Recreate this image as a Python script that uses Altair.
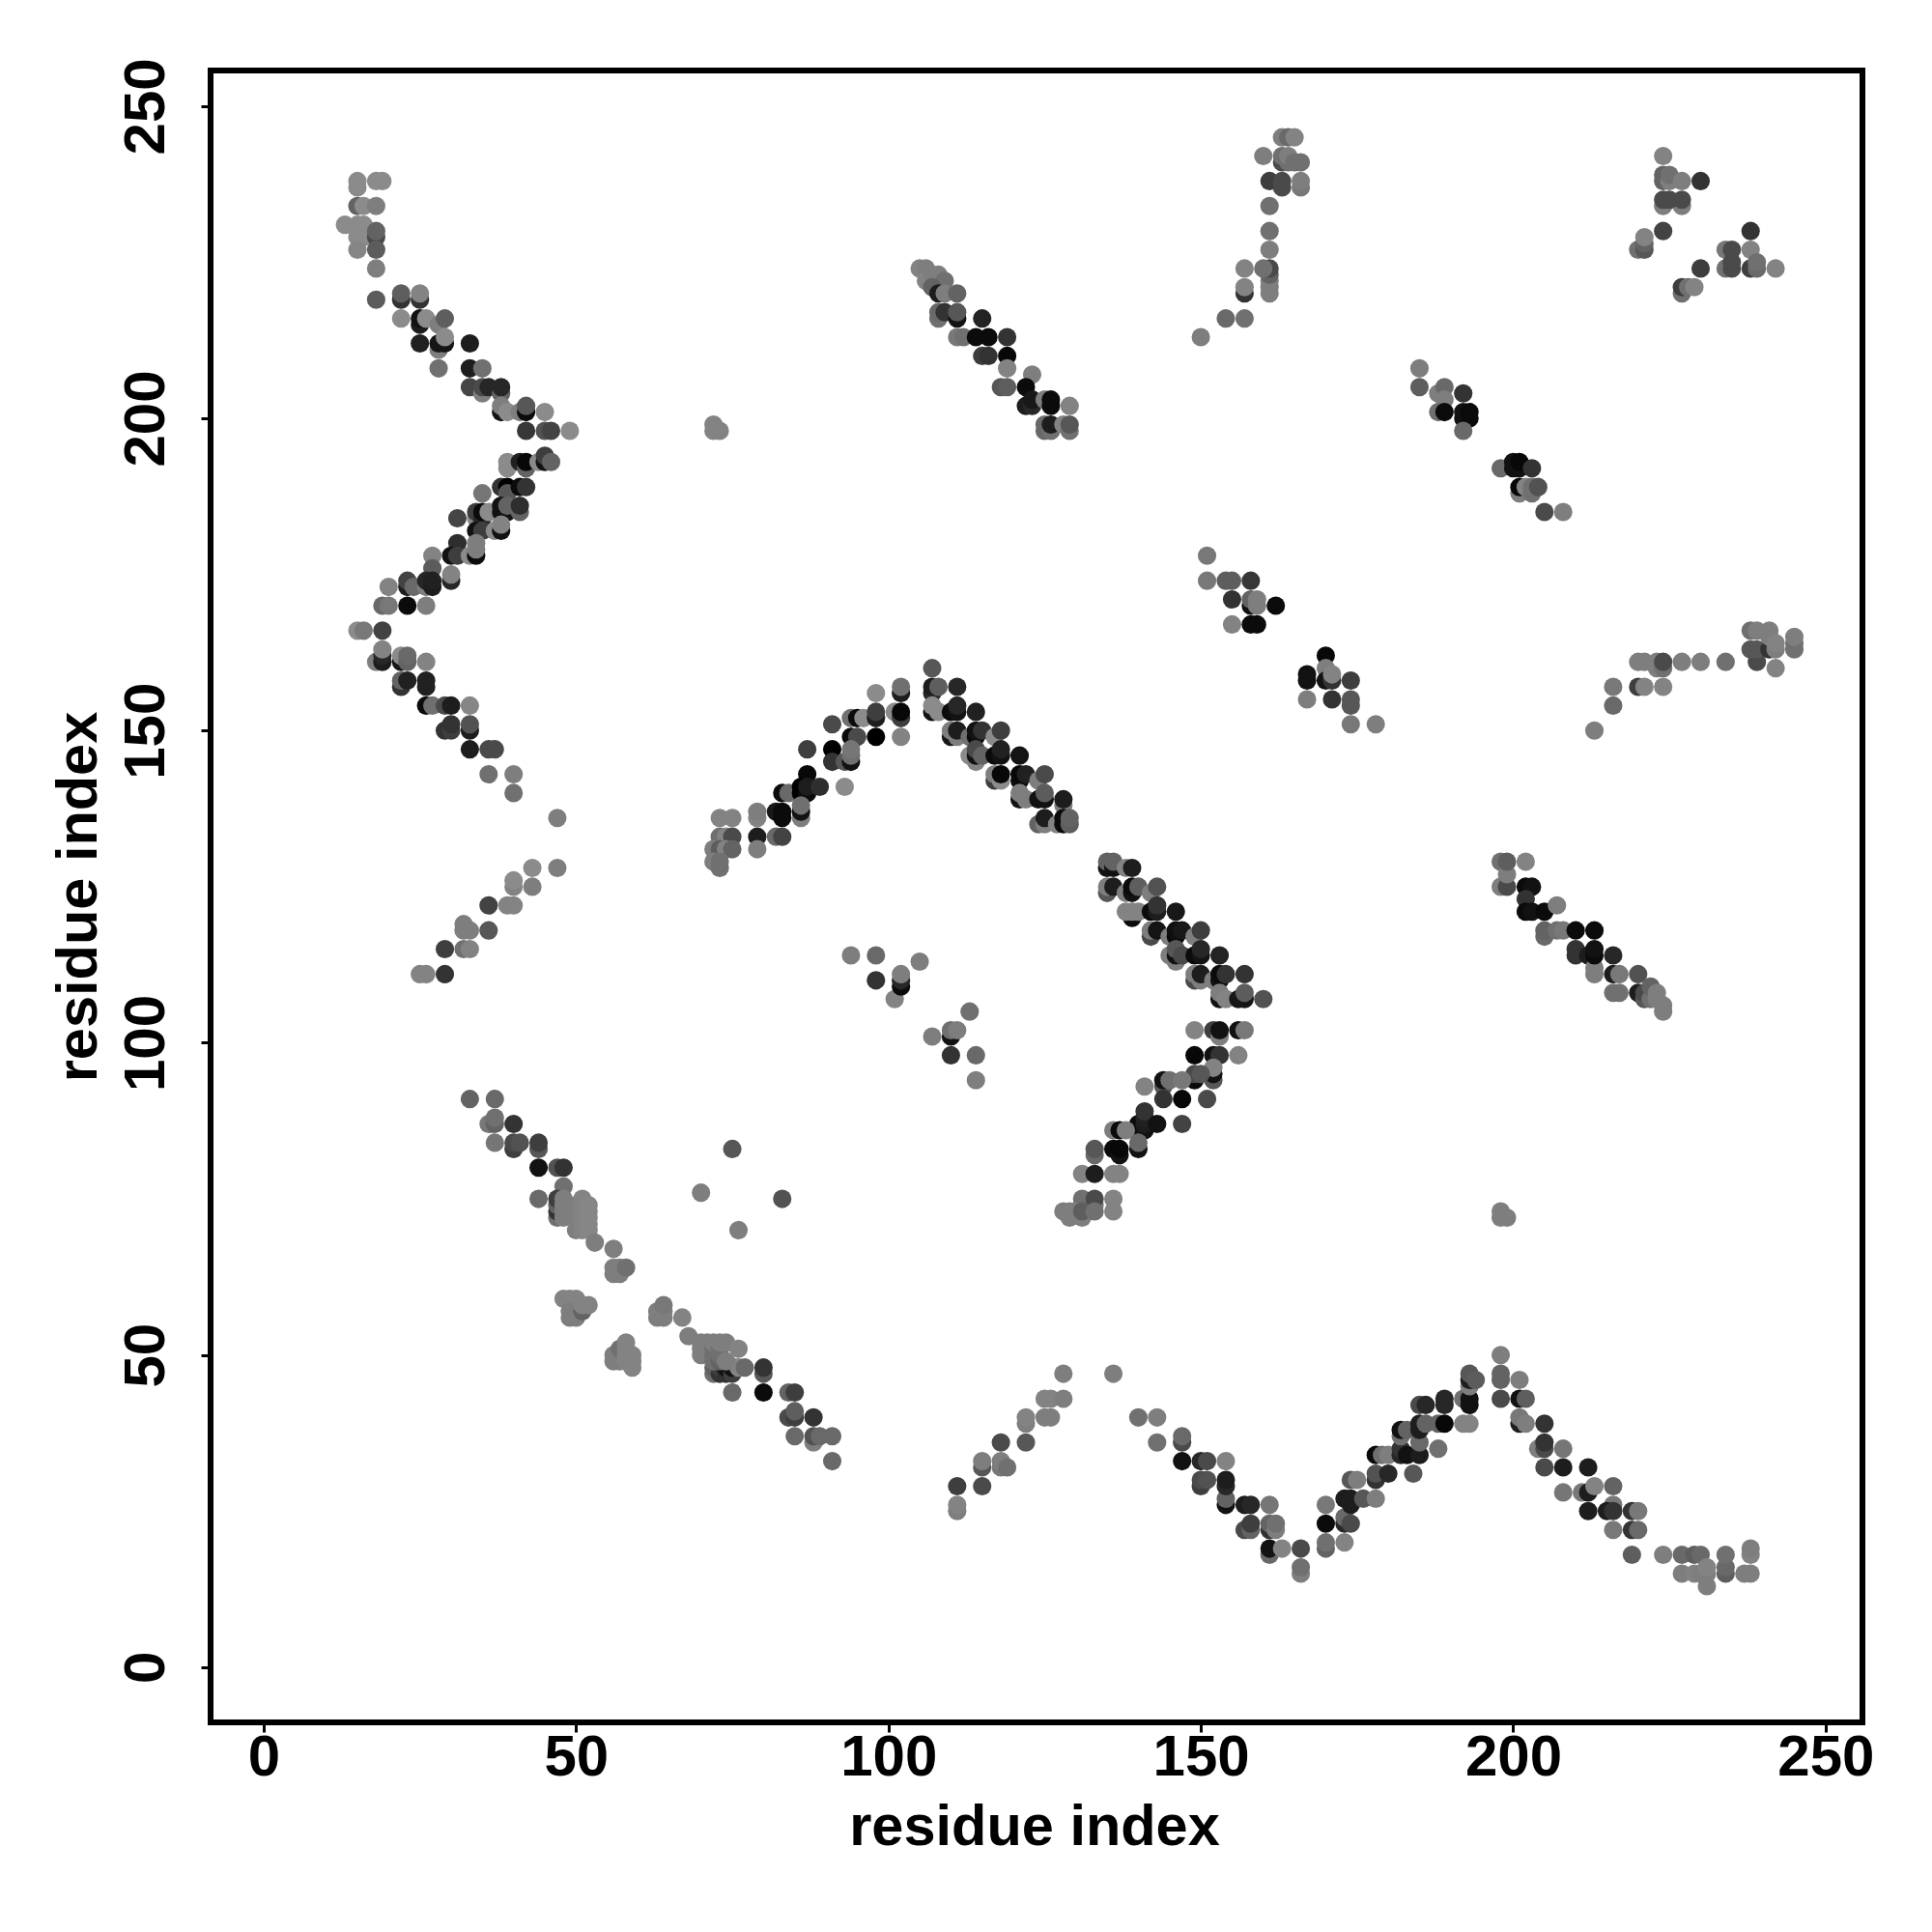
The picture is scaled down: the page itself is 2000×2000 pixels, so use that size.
import altair as alt
import pandas as pd

# (x residue, y residue, grey level 0=black .. 1=white)
top_left_arm = [
(15,238,.55),(15,237,.55),(18,238,.55),(19,238,.55),(15,234,.4),(16,234,.55),(18,234,.5),
(13,231,.55),(15,231,.55),(16,231,.55),(15,229,.55),(16,229,.55),(15,230,.55),(18,229,.3),(18,230,.4),(15,227,.53),(18,227,.37),
(18,224,.5),(18,219,.37),(22,219,.2),(22,220,.38),(22,216,.55),(25,219,.2),(25,220,.52),
(25,215,.1),(25,216,.05),(26,216,.55),(28,215,.5),(29,216,.38),(25,212,.12),(28,211,.5),
(28,212,.07),(29,212,.07),(29,213,.55),(33,212,.1),(28,208,.45),(33,208,.1),(35,208,.45),
(33,205,.28),(35,204,.5),(35,205,.3),(36,205,.15),(38,204,.4),(38,205,.15),
(38,201,.05),(38,202,.5),(39,201,.55),(41,201,.5),(42,201,.03),(42,202,.35),(45,201,.55),
(42,198,.22),(45,198,.33),(46,198,.27),(49,198,.55),
]
left_rise = [
(39,192,.55),(39,193,.55),(41,193,.12),(42,192,.4),(42,193,.02),(44,193,.55),(45,193,.05),(45,194,.25),(46,193,.4),
(35,188,.47),(38,189,.2),(39,189,0),(39,188,.35),(41,189,.03),(42,189,.2),
(31,184,.28),(34,184,.55),(34,185,.25),(35,184,.15),(35,185,.03),(36,185,.55),(38,185,.05),(38,186,.05),(39,185,.05),(39,186,.4),(41,185,.4),(41,186,.18),
(34,182,.05),(35,182,.25),(37,182,.55),(38,182,.05),(38,183,.52),
(31,180,.18),(30,178,.05),(31,178,.25),(33,178,.55),(34,178,.03),(34,179,.5),(34,180,.5),
(27,178,.52),(27,176,.37),(30,174,.15),(30,175,.52),
(23,173,.1),(23,174,.27),(24,173,.42),(26,173,.5),(26,174,.15),(27,173,.1),(27,174,.12),
(20,173,.52),(19,170,.42),(20,170,.48),(23,170,.03),(26,170,.5),
(15,166,.55),(16,166,.48),(19,166,.27),
(18,161,.5),(19,161,.1),(19,162,.15),(19,163,.52),(22,161,.07),(22,162,.55),(23,161,.4),(23,162,.42),(26,161,.52),
(22,157,.2),(22,158,.4),(23,158,.12),(26,157,.12),(26,158,.12),
(26,154,.03),(27,154,.45),(29,154,.3),(30,154,.1),(33,154,.53),
(29,150,.2),(30,150,.25),(30,151,.2),(33,150,.1),(33,151,.33),
(33,147,.1),(36,147,.3),(37,147,.3),(36,143,.45),(40,143,.5),(40,140,.45),(47,136,.5),
]
left_low_arm = [
(47,128,.5),(43,128,.55),(43,125,.5),(40,125,.52),(40,126,.55),(39,122,.52),(40,122,.52),(36,122,.27),(36,118,.35),
(32,118,.5),(32,119,.5),(33,118,.5),(29,115,.25),(32,115,.45),(33,115,.52),(25,111,.52),(26,111,.52),(29,111,.2),
(72,199,.52),(72,198,.52),(73,198,.52),
]
arc_left = [
(102,156,.1),(102,157,.45),(98,156,.55),(94,152,.45),(95,152,.03),(96,152,.55),(98,152,.1),(98,153,.25),(101,153,.55),(102,152,.25),(102,153,.02),
(91,151,.3),(94,149,.03),(95,149,.3),(98,149,0),(102,149,.52),
(87,147,.25),(91,147,0),(91,145,.2),(93,145,.35),(94,145,.05),(94,146,.45),(94,147,.47),
(87,143,.02),(83,140,.03),(84,140,.42),(86,140,0),(86,141,0),(87,140,.03),(87,141,.1),(89,141,.18),(93,141,.55),
(86,136,.5),(86,137,.05),(86,138,.45),(82,137,.08),(83,136,.03),(83,137,.03),
(79,136,.52),(79,137,.5),(73,136,.52),(75,136,.52),
(73,133,.45),(74,133,.52),(75,133,.3),(79,133,.1),(82,133,.42),(83,133,.27),
(72,131,.5),(73,131,.38),(74,131,.52),(75,131,.4),(79,131,.5),(72,129,.5),(73,128,.45),(73,129,.45),
]
arc_right = [
(107,160,.35),(107,156,.15),(107,157,.1),(108,157,.38),(111,157,.15),
(107,153,.05),(107,154,.55),(108,153,.55),(110,153,.03),(111,153,.05),(111,154,.15),(114,153,.12),
(110,149,.08),(110,150,.5),(111,149,.5),(111,150,.1),(113,149,.45),(114,149,.03),(114,150,.05),(115,150,.2),(117,149,.55),(118,150,.25),
(113,146,.55),(114,145,.52),(114,146,.05),(114,147,.3),(115,146,.4),(117,146,.03),(118,146,.05),(118,147,.12),(121,146,.06),
(117,142,.25),(117,143,.5),(118,142,.55),(118,143,.02),(121,142,.03),(121,143,.02),(122,143,.12),(124,142,.5),(125,143,.3),
(121,139,.05),(121,140,.5),(122,139,.5),(124,139,.05),(125,139,.05),(125,140,.37),(128,138,.5),(128,139,.1),
(124,135,.4),(125,135,.5),(125,136,.1),(127,135,.52),(128,135,.03),(128,136,.03),(129,135,.38),(129,136,.4),
]
diag_centre_upper = [
(135,128,.05),(135,129,.4),(136,128,.05),(136,129,.4),(138,128,.52),(139,128,.1),
(135,124,.35),(135,125,.5),(136,125,.1),(138,124,.5),(139,124,.05),(139,125,.03),(140,125,.38),(142,124,.5),(143,125,.33),
(139,120,.03),(139,121,.52),(138,121,.52),(140,121,.52),(142,121,.03),(143,121,.1),(143,122,.2),(146,121,.08),
(142,117,.3),(142,118,.5),(143,118,.06),(145,117,.5),(146,117,.02),(146,118,.04),(147,118,.08),(149,117,.5),(150,118,.25),
(145,114,.5),(146,113,.5),(146,114,.05),(146,115,.35),(147,114,.3),(149,114,.03),(150,114,.06),(150,115,.15),(153,114,.13),
(149,110,.3),(149,111,.5),(150,110,.5),(150,111,.1),(152,110,.5),(153,110,.05),(153,111,.03),(154,111,.2),(157,111,.2),
(153,107,.05),(153,108,.5),(154,107,.52),(156,107,.07),(157,107,.07),(157,108,.37),(160,107,.33),
]
diag_centre_lower = [
(149,102,.52),(152,102,.25),(153,101,.5),(153,102,.05),(156,102,.05),(157,102,.48),
(149,98,.02),(152,98,.05),(153,98,.2),(156,98,.52),
(152,94,.35),(152,95,.05),(152,96,.52),(149,94,.03),(149,95,.3),(150,95,.35),
(144,93,.35),(144,94,.05),(145,94,.45),(147,94,.48),(141,93,.52),
(144,91,.2),(147,91,.02),(151,91,.3),(147,87,.27),
(140,86,.03),(140,87,.03),(141,86,.05),(141,87,.1),(141,88,.12),(141,89,.2),(143,87,.05),
(136,86,.5),(137,86,.03),(138,86,.5),(140,83,.05),(140,84,.42),(136,83,.03),(137,82,.05),(137,83,.02),
(133,82,.42),(133,83,.35),(131,79,.52),(133,79,.1),(136,79,.52),(137,79,.52),
(131,74,.5),(131,75,.45),(133,74,.5),(133,75,.3),(136,75,.52),
(128,73,.5),(129,72,.5),(129,73,.5),(130,73,.5),(131,72,.5),(131,73,.38),(133,73,.45),(136,73,.52),
]
diag_low_left = [
(33,91,.4),(37,91,.42),(36,87,.48),(37,87,.4),(37,88,.45),(40,87,.2),(37,84,.47),(40,83,.25),(40,84,.3),(41,84,.33),
(44,83,.35),(44,84,.25),(44,80,.05),(47,80,.33),(48,80,.2),(44,75,.42),(48,77,.45),
(47,72,.45),(47,73,.2),(47,74,.4),(47,75,.25),(48,72,.5),(48,73,.5),(48,74,.5),(48,75,.5),
(50,70,.5),(50,72,.5),(50,73,.5),(50,74,.5),(51,70,.52),(51,71,.52),(51,72,.52),(51,73,.52),(51,74,.52),(51,75,.52),
(52,70,.53),(52,71,.53),(52,72,.53),(52,73,.53),(52,74,.53),(53,68,.5),(56,67,.5),
(56,63,.5),(56,64,.5),(57,63,.5),(57,64,.5),(58,64,.45),
(70,76,.5),(83,75,.33),(76,70,.5),(75,83,.35),
(48,59,.52),(49,59,.52),(50,59,.52),(49,56,.5),(50,56,.5),(49,57,.5),(50,57,.5),(51,57,.4),(51,58,.52),(52,58,.52),
(56,49,.5),(56,50,.5),(57,49,.5),(57,51,.45),(58,49,.52),(58,50,.52),(58,51,.52),(58,52,.52),(59,48,.52),(59,49,.52),(59,50,.52),
(63,56,.5),(63,57,.5),(64,56,.5),(64,57,.5),(64,58,.48),(67,56,.52),(68,53,.5),
(72,47,.45),(72,48,.4),(73,47,.2),(73,48,.25),(74,47,.2),(74,48,.05),(75,47,.25),(75,48,.05),(76,48,.52),(77,48,.42),
(70,50,.5),(70,51,.5),(70,52,.5),(71,51,.5),(71,52,.5),(72,49,.45),(72,50,.45),(72,51,.45),(72,52,.5),
(73,49,.4),(73,50,.45),(73,51,.45),(73,52,.5),(74,49,.5),(74,52,.5),(76,51,.52),
(75,44,.42),(80,47,.35),(80,48,.2),(80,44,.03),(84,44,.4),(85,44,.25),
(84,40,.3),(85,40,.25),(85,41,.38),(88,40,.2),(85,37,.42),(88,36,.5),(88,37,.33),(89,37,.42),(91,37,.42),(91,33,.42),
]
diag_top_mid = [
(105,224,.52),(106,224,.5),(106,222,.52),(107,223,.5),(108,223,.5),(109,222,.45),(107,221,.4),(108,220,.1),(109,220,.5),(111,220,.4),
(108,216,.45),(108,217,.42),(109,217,.2),(111,216,.05),(111,217,.35),(111,213,.48),(115,216,.13),(112,213,.45),(114,213,.03),(116,213,.03),(119,213,.2),
(115,210,.25),(116,210,.2),(119,210,.02),(118,205,.35),(119,205,.38),(119,208,.52),(123,207,.5),
(122,205,.03),(122,202,.1),(123,202,.15),(123,203,.08),(125,203,.5),(126,202,.03),(126,203,.03),(129,202,.52),
(125,198,.42),(125,199,.42),(126,198,.45),(126,199,.1),(128,199,.52),(129,198,.45),(129,199,.35),
]
top_cluster = [
(163,245,.5),(164,245,.42),(165,245,.52),(160,242,.5),(163,241,.3),(163,242,.45),(164,241,.45),(164,242,.5),(165,241,.45),(166,241,.45),
(161,238,.25),(163,237,.3),(163,238,.3),(166,237,.48),(166,238,.5),(161,234,.45),(161,230,.45),(161,227,.5),
(161,220,.5),(161,221,.5),(161,222,.5),(161,223,.4),(161,224,.3),(160,224,.45),(157,224,.52),(157,220,.2),(157,221,.52),
(154,216,.42),(157,216,.45),(150,213,.5),
]
top_right_cluster = [
(224,242,.52),(224,238,.4),(224,239,.4),(225,238,.5),(225,239,.45),(227,238,.5),(230,238,.2),
(224,234,.5),(227,234,.5),(224,235,.3),(225,235,.3),(227,235,.3),(224,230,.27),(220,227,.45),(221,227,.35),(221,228,.4),(221,229,.52),
(238,230,.2),(234,227,.48),(235,227,.3),(238,227,.52),(230,224,.25),(234,224,.45),(235,224,.3),(235,225,.3),(238,224,.25),(239,224,.42),(239,225,.45),(242,224,.52),
(227,220,.45),(227,221,.25),(228,221,.45),(229,221,.52),
]
right_diag = [
(185,208,.5),(185,205,.38),(188,204,.5),(189,205,.42),(189,203,.5),(188,201,.45),(189,201,.03),(192,204,.2),(192,200,.05),(192,201,.05),(193,200,.03),(193,201,.03),(192,198,.42),
(198,192,.42),(200,192,.05),(200,193,.05),(201,192,.05),(201,193,.02),(203,192,.2),(201,188,.5),(201,189,.02),(202,189,.52),(203,188,.45),(203,189,.45),(204,189,.33),(205,185,.3),(208,185,.5),
]
middle_diag = [
(151,178,.48),(151,174,.48),(154,174,.38),(155,174,.38),(158,174,.22),(155,171,.2),(158,170,.05),(158,171,.4),(159,170,.5),(159,171,.5),(162,170,.03),
(155,167,.52),(158,167,.03),(159,167,.03),(170,162,.02),(170,160,.5),(167,158,.05),(167,159,.05),(170,158,.05),(171,158,.2),(171,159,.52),(174,158,.25),
(167,155,.5),(171,155,.2),(174,154,.35),(174,155,.35),(174,151,.48),(178,151,.5),
]
right_tail = [
(213,150,.5),(216,154,.42),(216,157,.48),(220,157,.25),(221,157,.52),(224,157,.52),
(220,161,.5),(221,161,.5),(223,160,.5),(223,161,.5),(224,160,.45),(224,161,.3),(227,161,.5),(230,161,.5),(234,161,.45),
(239,161,.3),(238,163,.35),(239,163,.35),(238,166,.45),(239,166,.5),(241,163,.2),(241,165,.5),(241,166,.5),(242,160,.52),(242,163,.5),(242,164,.52),(245,163,.45),(245,164,.45),(245,165,.5),
]
low_right_diag = [
(198,125,.5),(198,129,.45),(199,125,.3),(199,127,.5),(199,129,.38),(202,129,.52),(202,125,.03),(203,125,.05),(202,123,.2),(202,121,.03),(203,121,.05),(205,121,.03),(207,122,.5),
(205,117,.42),(205,118,.4),(207,118,.45),(208,118,.48),(210,118,.03),(213,118,.03),(210,114,.2),(210,115,.2),(212,114,.1),(213,112,.5),(213,114,.03),(213,115,.05),(216,114,.15),
(213,111,.5),(216,111,.1),(217,111,.48),(220,111,.33),(216,108,.45),(217,108,.45),(220,108,.1),(221,107,.35),(221,108,.3),(222,107,.45),(222,109,.4),(223,107,.5),(223,108,.5),(224,105,.5),(224,106,.5),
(198,72,.5),(198,73,.5),(199,72,.5),
]
centre_bits = [
(94,114,.5),(98,114,.42),(98,110,.2),(101,107,.52),(102,109,.03),(102,110,.15),(102,111,.5),(105,113,.5),
(107,101,.5),(110,101,.05),(110,102,.45),(111,102,.5),(110,98,.2),(113,105,.45),(114,98,.42),(114,94,.5),
]
bottom_wave = [
(111,29,.25),(111,25,.5),(111,26,.52),(115,29,.3),(115,32,.35),(115,33,.5),(118,36,.3),(118,32,.48),(118,33,.5),(119,32,.45),(122,36,.35),(122,39,.5),(122,40,.52),
(125,43,.52),(126,43,.52),(125,40,.5),(126,40,.5),(128,43,.5),(128,47,.5),(136,47,.5),(140,40,.45),(143,40,.5),(143,36,.45),
(147,33,.05),(147,36,.3),(147,37,.42),(150,33,.15),(151,33,.3),(154,33,.52),(150,29,.25),(150,30,.3),(151,30,.33),(154,26,.05),(154,27,.4),(154,29,.15),(154,30,.1),
(157,26,.1),(158,26,.15),(161,26,.47),(157,22,.3),(158,22,.4),(158,23,.25),(161,22,.2),(161,23,.4),(162,22,.5),(162,23,.45),
(161,18,.42),(161,19,.05),(163,19,.52),(166,19,.3),(166,15,.5),(166,16,.45),
(170,26,.48),(170,23,.03),(170,19,.4),(170,20,.45),(173,20,.52),(173,23,.15),(173,24,.42),(174,23,.3),
(174,26,.1),(173,27,.1),(174,27,.1),(174,30,.35),(175,30,.5),(176,27,.35),(178,27,.5),(178,30,.2),(178,31,.33),(180,31,.15),(184,31,.35),
(178,34,.03),(179,34,.45),(180,34,.5),(182,34,.15),(182,35,.2),(183,34,.05),(185,34,.1),(188,35,.45),
(182,37,.45),(182,38,.05),(183,38,.4),(185,36,.42),(185,38,.1),(185,39,.1),(186,39,.4),
(188,39,.4),(189,39,.02),(185,42,.3),(186,42,.15),(189,42,.15),(189,43,.15),(192,39,.52),(193,39,.52),(192,43,.45),(193,42,.05),(193,43,.05),
(193,45,.5),(193,46,.1),(193,47,.35),(194,46,.37),(198,50,.5),(198,43,.3),(198,46,.4),(198,47,.4),
(201,46,.5),(201,43,.05),(202,43,.38),(201,39,.1),(201,40,.48),(202,39,.5),(205,39,.2),
(204,35,.5),(205,35,.3),(205,36,.2),(208,35,.47),(205,32,.3),(208,32,.1),(212,32,.1),
(208,28,.47),(211,28,.48),(212,28,.1),(213,29,.52),(216,29,.4),(216,26,.48),(212,25,.1),(215,25,.1),(216,25,.2),(219,25,.2),(220,25,.48),
(216,22,.48),(219,22,.2),(220,22,.42),(219,18,.38),
(224,18,.5),(227,18,.42),(229,18,.38),(230,18,.42),(227,15,.5),(229,15,.52),(230,15,.5),(231,13,.5),(231,15,.5),(231,16,.52),
(234,15,.38),(234,16,.42),(234,18,.45),(237,15,.5),(238,15,.5),(238,18,.52),(238,19,.5),
]

groups = [top_left_arm, left_rise, left_low_arm, arc_left, arc_right, diag_centre_upper, diag_centre_lower,
          diag_low_left, diag_top_mid, top_cluster, top_right_cluster, right_diag, middle_diag,
          right_tail, low_right_diag, centre_bits, bottom_wave]
df = pd.DataFrame([p for g in groups for p in g], columns=["x", "y", "g"])

ticks = [0, 50, 100, 150, 200, 250]
FONT = "Liberation Sans"

chart = (
    alt.Chart(df)
    .mark_circle(size=365, opacity=1)
    .encode(
        x=alt.X("x:Q", scale=alt.Scale(domain=[-8.5, 255.9], nice=False, zero=False),
                axis=alt.Axis(values=ticks, title="residue index", format="d", grid=False, domain=False,
                              tickColor="black", tickWidth=3, tickSize=10,
                              labelFont=FONT, labelFontWeight="bold", labelFontSize=60, labelColor="black",
                              labelPadding=-3, labelOverlap=False, labelFlush=False,
                              titleFont=FONT, titleFontWeight="bold", titleFontSize=59.5, titleColor="black",
                              titlePadding=13, titleX=852.5)),
        y=alt.Y("y:Q", scale=alt.Scale(domain=[-8.83, 255.7], nice=False, zero=False),
                axis=alt.Axis(values=ticks, title="residue index", format="d", grid=False, domain=False,
                              tickColor="black", tickWidth=3, tickSize=10,
                              labelFont=FONT, labelFontWeight="bold", labelFontSize=60, labelColor="black",
                              labelAngle=270, labelAlign="center", labelBaseline="alphabetic",
                              labelPadding=39, labelOverlap=False, labelFlush=False,
                              titleFont=FONT, titleFontWeight="bold", titleFontSize=59.5, titleColor="black",
                              titlePadding=10)),
        color=alt.Color("g:Q", scale=alt.Scale(domain=[0, 0.95], range=["#000000", "#ffffff"]), legend=None),
        order=alt.Order("row:Q"),
    )
    .transform_window(row="row_number()")
    .properties(width=1710, height=1710,
                autosize=alt.AutoSizeParams(type="none"),
                padding={"left": 210, "top": 65, "right": 60, "bottom": 200})
    .configure_view(stroke="black", strokeWidth=6)
)

chart.save("out.html", embed_options={"renderer": "svg", "actions": False})
